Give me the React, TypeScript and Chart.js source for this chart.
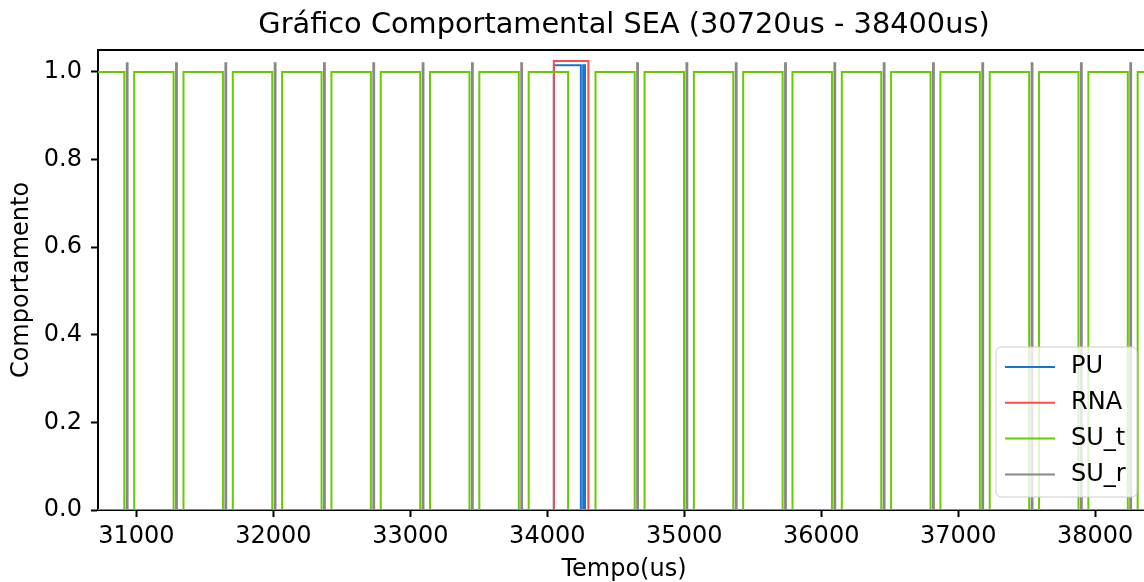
import React, { useEffect, useRef } from "react";
import { Chart, registerables } from "chart.js";

Chart.register(...registerables);

// ---------- data ----------
const TITLE = "Gráfico Comportamental SEA (30720us - 38400us)";
const X_LABEL = "Tempo(us)";
const Y_LABEL = "Comportamento";

const X_MIN = 30720;
const X_MAX = 38400;
const Y_MIN = 0;
const Y_MAX = 1.05;

const X_TICKS = [31000, 32000, 33000, 34000, 35000, 36000, 37000, 38000];
const Y_TICKS = [0, 0.2, 0.4, 0.6, 0.8, 1.0];

const SERIES_LABELS = ["PU", "RNA", "SU_t", "SU_r"];
const SERIES_COLORS = ["#1a73d2", "#ff4a4a", "#66cc00", "#888888"];

// level each series jumps to when active
const PU_LEVEL = 1.015;
const RNA_LEVEL = 1.025;
const SU_T_LEVEL = 1.0;
const SU_R_LEVEL = 1.02;

// PU active intervals [start, end] (us)
const PU_ON = [
  [34048, 34245],
  [34262, 34275],
];

// RNA detection interval(s)
const RNA_ON = [[34048, 34300]];

// SU_t is 1 except during these off intervals
const SU_T_OFF = [
  [30912, 30984],
  [31272, 31344],
  [31632, 31704],
  [31992, 32064],
  [32352, 32424],
  [32712, 32784],
  [33072, 33144],
  [33432, 33504],
  [33792, 33864],
  [34152, 34352],
  [34638, 34710],
  [34998, 35070],
  [35358, 35430],
  [35718, 35790],
  [36078, 36150],
  [36438, 36510],
  [36798, 36870],
  [37158, 37230],
  [37518, 37590],
  [37878, 37950],
  [38238, 38310],
];

// SU_r short spikes (start times, us) and their duration
const SU_R_SPIKES = [
  30930, 31290, 31650, 32010, 32370, 32730, 33090, 33450, 33810,
  34656, 35016, 35376, 35736, 36096, 36456, 36816, 37176, 37536, 37896, 38256,
];
const SU_R_WIDTH = 6;

// ---------- build step series ----------
type Pt = { x: number; y: number };

function onSeries(intervals: number[][], level: number): Pt[] {
  const pts: Pt[] = [{ x: X_MIN, y: 0 }];
  intervals.forEach(([a, b]) => {
    pts.push({ x: a, y: level });
    pts.push({ x: b, y: 0 });
  });
  pts.push({ x: X_MAX, y: 0 });
  return pts;
}

function offSeries(intervals: number[][], level: number): Pt[] {
  const pts: Pt[] = [{ x: X_MIN, y: level }];
  intervals.forEach(([a, b]) => {
    pts.push({ x: a, y: 0 });
    pts.push({ x: b, y: level });
  });
  pts.push({ x: X_MAX, y: level });
  return pts;
}

const FONT = '"DejaVu Sans", "Liberation Sans", sans-serif';

const legendPlugin = {
  id: "boxLegend",
  afterDatasetsDraw(chart: any) {
    const { ctx, chartArea } = chart;
    const w = 141;
    const h = 150;
    const right = chartArea.right - 13;
    const bottom = chartArea.bottom - 13;
    const left = right - w;
    const top = bottom - h;
    const r = 5;
    ctx.save();
    ctx.beginPath();
    ctx.moveTo(left + r, top);
    ctx.lineTo(right - r, top);
    ctx.arcTo(right, top, right, top + r, r);
    ctx.lineTo(right, bottom - r);
    ctx.arcTo(right, bottom, right - r, bottom, r);
    ctx.lineTo(left + r, bottom);
    ctx.arcTo(left, bottom, left, bottom - r, r);
    ctx.lineTo(left, top + r);
    ctx.arcTo(left, top, left + r, top, r);
    ctx.closePath();
    ctx.fillStyle = "rgba(255,255,255,0.8)";
    ctx.fill();
    ctx.strokeStyle = "#cccccc";
    ctx.lineWidth = 1;
    ctx.stroke();
    chart.data.datasets.forEach((ds: any, i: number) => {
      const y = top + 20 + i * 35.8;
      ctx.beginPath();
      ctx.strokeStyle = ds.borderColor;
      ctx.lineWidth = 2;
      ctx.moveTo(left + 9, y);
      ctx.lineTo(left + 59, y);
      ctx.stroke();
      ctx.fillStyle = "#000";
      ctx.font = `24px ${FONT}`;
      ctx.textBaseline = "middle";
      ctx.textAlign = "left";
      ctx.fillText(ds.label, left + 75, y);
    });
    ctx.restore();
  },
};

const frameTopPlugin = {
  id: "frameTop",
  afterDraw(chart: any) {
    const { ctx, chartArea } = chart;
    ctx.save();
    ctx.strokeStyle = "#000";
    ctx.lineWidth = 2;
    ctx.beginPath();
    ctx.moveTo(chartArea.left - 1, chartArea.top);
    ctx.lineTo(chartArea.right + 1, chartArea.top);
    ctx.lineTo(chartArea.right, chartArea.bottom);
    ctx.stroke();
    ctx.restore();
  },
};

export default function App() {
  const ref = useRef<HTMLCanvasElement>(null);

  useEffect(() => {
    if (!ref.current) return;
    Chart.defaults.color = "#000";
    Chart.defaults.font.family = FONT;

    const seriesData = [
      onSeries(PU_ON, PU_LEVEL),
      onSeries(RNA_ON, RNA_LEVEL),
      offSeries(SU_T_OFF, SU_T_LEVEL),
      onSeries(SU_R_SPIKES.map((t) => [t, t + SU_R_WIDTH]), SU_R_LEVEL),
    ];

    const chart = new Chart(ref.current, {
      type: "line",
      data: {
        datasets: seriesData.map((d, i) => ({
          label: SERIES_LABELS[i],
          data: d,
          borderColor: SERIES_COLORS[i],
          backgroundColor: SERIES_COLORS[i],
          borderWidth: 2,
          pointRadius: 0,
          stepped: "before" as const,
          fill: false,
          clip: 0,
          order: SERIES_LABELS.length - i,
        })),
      },
      options: {
        animation: false,
        responsive: false,
        devicePixelRatio: 1,
        layout: { padding: { left: 0, top: 0, right: 10, bottom: 0 } },
        plugins: {
          legend: { display: false },
          tooltip: { enabled: false },
          title: {
            display: true,
            text: TITLE,
            fullSize: false,
            color: "#000",
            font: { size: 28.8, family: FONT, weight: "normal" },
            padding: { top: 8.7, bottom: 6.74 },
          },
        },
        scales: {
          x: {
            type: "linear",
            min: X_MIN,
            max: X_MAX,
            z: 1,
            afterBuildTicks: (scale: any) => {
              scale.ticks = X_TICKS.map((v) => ({ value: v }));
            },
            afterFit: (scale: any) => {
              scale.height = 74;
            },
            ticks: {
              color: "#000",
              font: { size: 24, family: FONT },
              padding: 5,
              maxRotation: 0,
              autoSkip: false,
              callback: (v: any) => String(v),
            },
            grid: {
              drawOnChartArea: false,
              drawTicks: true,
              tickLength: 7,
              tickWidth: 2,
              tickColor: "#000",
              color: "#000",
            },
            border: { display: true, color: "#000", width: 2 },
            title: {
              display: true,
              text: X_LABEL,
              color: "#000",
              font: { size: 24, family: FONT },
              padding: { top: 0, bottom: 0 },
            },
          },
          y: {
            type: "linear",
            min: Y_MIN,
            max: Y_MAX,
            z: 1,
            afterBuildTicks: (scale: any) => {
              scale.ticks = Y_TICKS.map((v) => ({ value: v }));
            },
            afterFit: (scale: any) => {
              scale.width = 98;
            },
            ticks: {
              color: "#000",
              font: { size: 24, family: FONT },
              padding: 9,
              autoSkip: false,
              callback: (v: any) => Number(v).toFixed(1),
            },
            grid: {
              drawOnChartArea: false,
              drawTicks: true,
              tickLength: 7,
              tickWidth: 2,
              tickColor: "#000",
              color: "#000",
            },
            border: { display: true, color: "#000", width: 2 },
            title: {
              display: true,
              text: Y_LABEL,
              color: "#000",
              font: { size: 24, family: FONT },
              padding: { top: 7, bottom: 0 },
            },
          },
        },
      },
      plugins: [legendPlugin, frameTopPlugin],
    } as any);

    return () => chart.destroy();
  }, []);

  return (
    <div
      style={{
        position: "fixed",
        left: 0,
        top: 0,
        width: 1144,
        height: 582,
        overflow: "hidden",
        background: "#fff",
      }}
    >
      <canvas
        ref={ref}
        width={1160}
        height={584}
        style={{ display: "block", width: 1160, height: 584 }}
      />
    </div>
  );
}
